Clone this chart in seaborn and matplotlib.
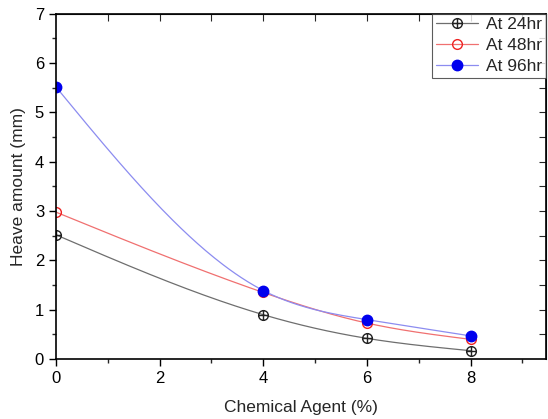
import numpy as np
import matplotlib
matplotlib.use("Agg")
import matplotlib.pyplot as plt
import seaborn as sns
from matplotlib.path import Path
from matplotlib.lines import Line2D

# values
agent = [0, 4, 6, 8]
heave_24 = [2.52, 0.90, 0.42, 0.17]
heave_48 = [2.98, 1.35, 0.73, 0.40]
heave_96 = [5.52, 1.39, 0.80, 0.47]
labels = ["At 24hr", "At 48hr", "At 96hr"]


def natural_spline(x, y, n=200):
    # Origin style spline connection drawn through the measured points
    x = np.asarray(x, float)
    y = np.asarray(y, float)
    k = len(x)
    h = np.diff(x)
    A = np.zeros((k, k))
    b = np.zeros(k)
    A[0, 0] = A[-1, -1] = 1
    for i in range(1, k - 1):
        A[i, i - 1] = h[i - 1]
        A[i, i] = 2 * (h[i - 1] + h[i])
        A[i, i + 1] = h[i]
        b[i] = 6 * ((y[i + 1] - y[i]) / h[i] - (y[i] - y[i - 1]) / h[i - 1])
    M = np.linalg.solve(A, b)
    xs = np.linspace(x[0], x[-1], n)
    idx = np.clip(np.searchsorted(x, xs) - 1, 0, k - 2)
    x0, x1 = x[idx], x[idx + 1]
    hh = x1 - x0
    t0, t1 = x1 - xs, xs - x0
    ys = (M[idx] * t0 ** 3 + M[idx + 1] * t1 ** 3) / (6 * hh) \
        + (y[idx] / hh - M[idx] * hh / 6) * t0 \
        + (y[idx + 1] / hh - M[idx + 1] * hh / 6) * t1
    return xs, ys


sns.set_style("ticks")
plt.rcParams["font.family"] = ["Liberation Sans", "DejaVu Sans"]

# circle with a plus inside, like the Origin marker
circ = Path.unit_circle()
cross = Path([[-1, 0], [1, 0], [0, -1], [0, 1]],
             [Path.MOVETO, Path.LINETO, Path.MOVETO, Path.LINETO])
oplus = Path.make_compound_path(circ, cross)

fig = plt.figure(figsize=(5.48, 4.19), dpi=100)
ax = fig.add_axes([0.102, 0.143, 0.894, 0.824])

series = [
    (heave_24, "#6e6e6e", "#222222", oplus, "none", 7),
    (heave_48, "#f07070", "#ee2222", "o", "none", 7),
    (heave_96, "#8c8cf0", "#0000ee", "o", "#0000ee", 7.5),
]

handles = []
for (vals, lc, mc, mk, fc, ms), lab in zip(series, labels):
    xs, ys = natural_spline(agent, vals)
    sns.lineplot(x=xs, y=ys, ax=ax, color=lc, linewidth=0.9, sort=False)
    ax.plot(agent, vals, linestyle="none", marker=mk, markersize=ms,
            markerfacecolor=fc, markeredgecolor=mc, markeredgewidth=1.0,
            clip_on=True)
    handles.append(Line2D([], [], color=lc, linewidth=0.9, marker=mk,
                          markersize=ms, markerfacecolor=fc,
                          markeredgecolor=mc, markeredgewidth=1.0))

ax.set_xlim(0, 9.45)
ax.set_ylim(0, 7)
ax.set_xticks([0, 2, 4, 6, 8])
ax.set_xticks([1, 3, 5, 7, 9], minor=True)
ax.set_yticks(range(0, 8))
ax.set_yticks(np.arange(0.5, 7, 1.0), minor=True)

ax.tick_params(axis="both", which="major", direction="out", length=5,
               width=1, labelsize=12, color="black", labelcolor="black")
ax.tick_params(axis="both", which="minor", direction="out", length=3, width=1)
for side in ["top", "right", "left", "bottom"]:
    ax.spines[side].set_visible(True)
    ax.spines[side].set_color("black")
    ax.spines[side].set_linewidth(1.2)

# inward ticks on top and right
ax2 = ax.secondary_xaxis("top")
ax2.set_xticks([1, 2, 3, 4, 5, 6, 7, 8, 9])
ax2.tick_params(direction="in", length=5, labeltop=False)
ax2.set_xticklabels([])
ax3 = ax.secondary_yaxis("right")
ax3.set_yticks(np.arange(0.5, 7.5, 0.5))
ax3.tick_params(direction="in", length=5, labelright=False)
ax3.set_yticklabels([])
ax.tick_params(top=False, right=False, which="both")

ax.set_xlabel("Chemical Agent (%)", fontsize=12.5, labelpad=10)
ax.set_ylabel("Heave amount (mm)", fontsize=12.5, labelpad=6)

leg = ax.legend(handles, labels, loc="upper right", fontsize=12.5,
                frameon=True, fancybox=False, borderaxespad=0,
                handlelength=2.4, handletextpad=0.5, borderpad=0.2,
                labelspacing=0.33)
leg.get_frame().set_edgecolor("#333333")
leg.get_frame().set_linewidth(0.8)

fig.savefig("out.png", dpi=100)
